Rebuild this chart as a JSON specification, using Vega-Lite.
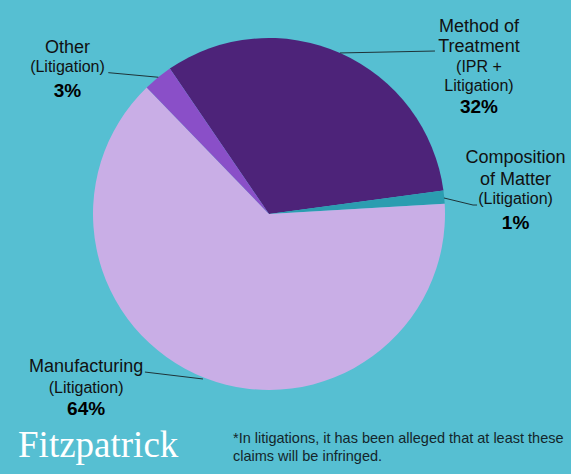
{
  "$schema": "https://vega.github.io/schema/vega-lite/v6.json",
  "width": 571,
  "height": 474,
  "padding": 0,
  "autosize": {"type": "none"},
  "background": "#56BFD2",
  "config": {"view": {"stroke": null}, "font": "Liberation Sans"},
  "datasets": {
    "slices": [
      {"category": "Method of Treatment", "ord": 1, "share": 32.4},
      {"category": "Composition of Matter", "ord": 2, "share": 1.2},
      {"category": "Manufacturing", "ord": 3, "share": 63.7},
      {"category": "Other", "ord": 4, "share": 2.7}
    ],
    "labels": [
      {"kind": "title", "text": "Method of", "u": 119.3, "v": 103.6},
      {"kind": "title", "text": "Treatment", "u": 119.3, "v": 92.2},
      {"kind": "sub", "text": "(IPR +", "u": 119.3, "v": 80.9},
      {"kind": "sub", "text": "Litigation)", "u": 119.3, "v": 70.1},
      {"kind": "pct", "text": "32%", "u": 119.3, "v": 57.2},
      {"kind": "title", "text": "Composition", "u": 140.1, "v": 28.8},
      {"kind": "title", "text": "of Matter", "u": 140.1, "v": 16.5},
      {"kind": "sub", "text": "(Litigation)", "u": 140.1, "v": 5.5},
      {"kind": "pct", "text": "1%", "u": 140.1, "v": -8.5},
      {"kind": "title", "text": "Other", "u": -114.5, "v": 91.6},
      {"kind": "sub", "text": "(Litigation)", "u": -114.5, "v": 80.7},
      {"kind": "pct", "text": "3%", "u": -114.5, "v": 66.3},
      {"kind": "title", "text": "Manufacturing", "u": -103.9, "v": -89.9},
      {"kind": "sub", "text": "(Litigation)", "u": -103.9, "v": -101.9},
      {"kind": "pct", "text": "64%", "u": -103.9, "v": -114.4},
      {"kind": "note", "text": "*In litigations, it has been alleged that at least these", "u": -20.45, "v": -130.3},
      {"kind": "note", "text": "claims will be infringed.", "u": -20.45, "v": -140.3},
      {"kind": "logo", "text": "Fitzpatrick", "u": -142.6, "v": -138.2}
    ],
    "leaders": [
      {"u": -91.3, "v": 80.3, "u2": -62.9, "v2": 77.7},
      {"u": 40.3, "v": 91.5, "u2": 94.3, "v2": 92.6},
      {"u": 99.4, "v": 9.1, "u2": 115.9, "v2": 5.1},
      {"u": 115.9, "v": 5.1, "u2": 118.2, "v2": 5.1},
      {"u": -70.5, "v": -89.8, "u2": -37.5, "v2": -93.75}
    ]
  },
  "layer": [
    {
      "data": {"name": "slices"},
      "mark": {"type": "arc", "outerRadius": 176},
      "encoding": {
        "x": {"datum": 0, "type": "quantitative", "scale": {"domain": [-152.84, 171.59], "nice": false, "zero": false}, "axis": null},
        "y": {"datum": 0, "type": "quantitative", "scale": {"domain": [-147.73, 121.59], "nice": false, "zero": false}, "axis": null},
        "theta": {"field": "share", "type": "quantitative", "stack": true, "scale": {"range": [-0.5986, 5.6846]}},
        "order": {"field": "ord", "type": "quantitative"},
        "color": {
          "field": "category", "type": "nominal", "legend": null,
          "scale": {
            "domain": ["Method of Treatment", "Composition of Matter", "Manufacturing", "Other"],
            "range": ["#4D2379", "#2B9DB0", "#C9AEE6", "#8A4FC8"]
          }
        }
      }
    },
    {
      "data": {"name": "leaders"},
      "mark": {"type": "rule", "color": "#1E3338", "strokeWidth": 1},
      "encoding": {
        "x": {"field": "u", "type": "quantitative", "axis": null},
        "y": {"field": "v", "type": "quantitative", "axis": null},
        "x2": {"field": "u2"},
        "y2": {"field": "v2"}
      }
    },
    {
      "data": {"name": "labels"},
      "transform": [{"filter": "datum.kind === 'title'"}],
      "mark": {"type": "text", "fontSize": 18, "align": "center", "baseline": "alphabetic", "color": "#111111"},
      "encoding": {
        "x": {"field": "u", "type": "quantitative", "axis": null},
        "y": {"field": "v", "type": "quantitative", "axis": null},
        "text": {"field": "text"}
      }
    },
    {
      "data": {"name": "labels"},
      "transform": [{"filter": "datum.kind === 'sub'"}],
      "mark": {"type": "text", "fontSize": 16, "align": "center", "baseline": "alphabetic", "color": "#111111"},
      "encoding": {
        "x": {"field": "u", "type": "quantitative", "axis": null},
        "y": {"field": "v", "type": "quantitative", "axis": null},
        "text": {"field": "text"}
      }
    },
    {
      "data": {"name": "labels"},
      "transform": [{"filter": "datum.kind === 'pct'"}],
      "mark": {"type": "text", "fontSize": 19, "fontWeight": "bold", "align": "center", "baseline": "alphabetic", "color": "#000000"},
      "encoding": {
        "x": {"field": "u", "type": "quantitative", "axis": null},
        "y": {"field": "v", "type": "quantitative", "axis": null},
        "text": {"field": "text"}
      }
    },
    {
      "data": {"name": "labels"},
      "transform": [{"filter": "datum.kind === 'note'"}],
      "mark": {"type": "text", "fontSize": 14.5, "align": "left", "baseline": "alphabetic", "color": "#14262B"},
      "encoding": {
        "x": {"field": "u", "type": "quantitative", "axis": null},
        "y": {"field": "v", "type": "quantitative", "axis": null},
        "text": {"field": "text"}
      }
    },
    {
      "data": {"name": "labels"},
      "transform": [{"filter": "datum.kind === 'logo'"}],
      "mark": {"type": "text", "font": "Liberation Serif", "fontSize": 37, "align": "left", "baseline": "alphabetic", "color": "#FFFFFF"},
      "encoding": {
        "x": {"field": "u", "type": "quantitative", "axis": null},
        "y": {"field": "v", "type": "quantitative", "axis": null},
        "text": {"field": "text"}
      }
    }
  ]
}
